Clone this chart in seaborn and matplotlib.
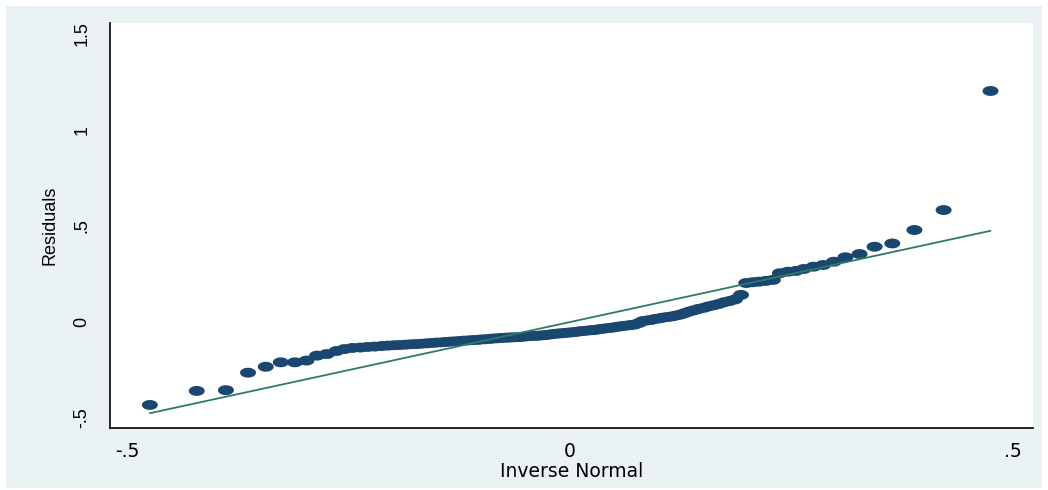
import numpy as np
import matplotlib
matplotlib.use("Agg")
import matplotlib.pyplot as plt
from matplotlib.path import Path
from matplotlib.patches import Rectangle
import seaborn as sns

# Inverse-normal positions (x) and sorted residuals (y)
inv_normal = [
    -0.475, -0.422, -0.389, -0.364, -0.344, -0.327, -0.311, -0.298, -0.286, -0.275,
    -0.264, -0.255, -0.246, -0.237, -0.229, -0.221, -0.213, -0.206, -0.199, -0.193,
    -0.186, -0.180, -0.174, -0.168, -0.162, -0.156, -0.151, -0.145, -0.140, -0.135,
    -0.130, -0.125, -0.120, -0.115, -0.110, -0.105, -0.101, -0.096, -0.091, -0.087,
    -0.082, -0.078, -0.073, -0.069, -0.065, -0.060, -0.056, -0.052, -0.048, -0.044,
    -0.039, -0.035, -0.031, -0.027, -0.023, -0.019, -0.014, -0.010, -0.006, -0.002,
    0.002, 0.006, 0.010, 0.014, 0.019, 0.023, 0.027, 0.031, 0.035, 0.039,
    0.044, 0.048, 0.052, 0.056, 0.060, 0.065, 0.069, 0.073, 0.078, 0.082,
    0.087, 0.091, 0.096, 0.101, 0.105, 0.110, 0.115, 0.120, 0.125, 0.130,
    0.135, 0.140, 0.145, 0.151, 0.156, 0.162, 0.168, 0.174, 0.180, 0.186,
    0.193, 0.199, 0.206, 0.213, 0.221, 0.229, 0.237, 0.246, 0.255, 0.264,
    0.275, 0.286, 0.298, 0.311, 0.327, 0.344, 0.364, 0.389, 0.422, 0.475,
]
residuals = [
    -0.432, -0.359, -0.355, -0.264, -0.233, -0.210, -0.210, -0.201, -0.175, -0.167,
    -0.151, -0.141, -0.135, -0.133, -0.130, -0.128, -0.125, -0.123, -0.121, -0.120,
    -0.118, -0.116, -0.115, -0.113, -0.111, -0.109, -0.107, -0.106, -0.104, -0.102,
    -0.101, -0.099, -0.097, -0.096, -0.094, -0.093, -0.091, -0.090, -0.088, -0.086,
    -0.085, -0.083, -0.082, -0.081, -0.080, -0.079, -0.078, -0.076, -0.074, -0.073,
    -0.072, -0.071, -0.069, -0.068, -0.065, -0.063, -0.060, -0.059, -0.057, -0.055,
    -0.054, -0.052, -0.049, -0.047, -0.045, -0.043, -0.042, -0.039, -0.036, -0.034,
    -0.031, -0.029, -0.026, -0.023, -0.021, -0.018, -0.016, -0.013, -0.005, 0.005,
    0.008, 0.010, 0.016, 0.019, 0.023, 0.026, 0.029, 0.034, 0.039, 0.047,
    0.055, 0.061, 0.068, 0.074, 0.081, 0.087, 0.094, 0.103, 0.109, 0.117,
    0.141, 0.203, 0.207, 0.210, 0.214, 0.219, 0.254, 0.262, 0.266, 0.276,
    0.288, 0.297, 0.314, 0.337, 0.354, 0.392, 0.409, 0.479, 0.583, 1.203,
]

x_ticks = [-0.5, 0, 0.5]
x_tick_labels = ["-.5", "0", ".5"]
y_ticks = [-0.5, 0, 0.5, 1, 1.5]
y_tick_labels = ["-.5", "0", ".5", "1", "1.5"]

sns.set_style("white")
plt.rcParams["font.family"] = ["Liberation Sans", "DejaVu Sans"]
plt.rcParams["text.color"] = "black"
plt.rcParams["xtick.labelcolor"] = "black"
plt.rcParams["ytick.labelcolor"] = "black"
plt.rcParams["axes.labelcolor"] = "black"

fig = plt.figure(figsize=(10.48, 4.9), dpi=100, facecolor="white")
# Stata-like light bluish graph region
fig.patches.append(Rectangle((6 / 1048, 2 / 490), 1036 / 1048, 482 / 490,
                             transform=fig.transFigure, facecolor="#eaf2f3",
                             edgecolor="none", zorder=-10))
ax = fig.add_axes([110 / 1048, 62 / 490, 923 / 1048, 405 / 490])
ax.set_zorder(5)
ax.set_facecolor("white")

# elliptical marker (the original graph is stretched horizontally)
t = np.linspace(0, 2 * np.pi, 60)
ellipse = Path(np.column_stack([np.cos(t), 0.62 * np.sin(t)]), closed=True)

sns.scatterplot(x=inv_normal, y=residuals, ax=ax, marker=ellipse, s=132,
                color="#1a476f", edgecolor="none", linewidth=0, zorder=2)
ends = [inv_normal[0], inv_normal[-1]]
sns.lineplot(x=ends, y=ends, ax=ax, color="#2f7a66", linewidth=1.3, zorder=3)

ax.set_xlim(-0.52, 0.523)
ax.set_ylim(-0.552, 1.557)
ax.set_xticks(x_ticks)
ax.set_xticklabels(x_tick_labels, family=["DejaVu Sans"], fontsize=13.5)
ax.set_yticks(y_ticks)
ax.set_yticklabels(y_tick_labels, rotation=90, va="center", fontsize=13)
ax.tick_params(axis="x", length=5, width=1, color="#333333", pad=5)
ax.tick_params(axis="y", length=7, width=1, color="#555555", pad=7)
ax.set_xlabel("Inverse Normal", family=["DejaVu Sans"], fontsize=13.5, labelpad=1)
ax.set_ylabel("Residuals", fontsize=13, labelpad=11)

for side in ["top", "right"]:
    ax.spines[side].set_visible(False)
for side in ["left", "bottom"]:
    ax.spines[side].set_color("black")
    ax.spines[side].set_linewidth(1.2)

fig.savefig("out.png", dpi=100, facecolor="white")
